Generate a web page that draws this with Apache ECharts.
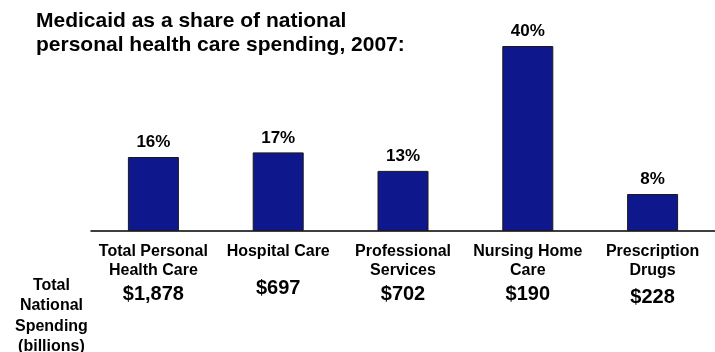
<!DOCTYPE html>
<html>
<head>
<meta charset="utf-8">
<script src="https://cdn.jsdelivr.net/npm/echarts@6/dist/echarts.min.js"></script>
<style>
  html, body { margin: 0; padding: 0; background: #ffffff; }
  #chart { width: 715px; height: 352px; }
</style>
</head>
<body>
<div id="chart"></div>
<script>
// Service categories along the bottom
const categories = [
  'Total Personal\nHealth Care',
  'Hospital Care',
  'Professional\nServices',
  'Nursing Home\nCare',
  'Prescription\nDrugs'
];
// Medicaid share of spending, percent
const medicaidShare = [16, 17, 13, 40, 8];
// Total national spending, billions of dollars
const nationalSpending = ['$1,878', '$697', '$702', '$190', '$228'];
// Row style used for each spending figure
const spendingRow = ['mid', 'hi', 'mid', 'mid', 'lo'];

const FONT = 'Arial, "Liberation Sans", sans-serif';
const chart = echarts.init(document.getElementById('chart'));

const spendStyle = (top) => ({
  fontFamily: FONT, fontSize: 20, fontWeight: 'bold', color: '#000',
  lineHeight: 24, padding: [top, 0, 0, 0]
});

chart.setOption({
  animation: false,
  backgroundColor: '#ffffff',
  title: {
    text: 'Medicaid as a share of national\npersonal health care spending, 2007:',
    left: 36,
    top: 9,
    padding: 0,
    textStyle: {
      fontFamily: FONT,
      fontSize: 21,
      fontWeight: 'bold',
      color: '#000000',
      lineHeight: 24
    }
  },
  grid: { left: 91, width: 634, top: 46, height: 185, containLabel: false },
  xAxis: [
    {
      type: 'category',
      data: categories,
      position: 'bottom',
      axisLine: { show: true, lineStyle: { color: '#000000', width: 1.5 } },
      axisTick: { show: false },
      axisLabel: {
        interval: 0,
        margin: 11,
        fontFamily: FONT,
        fontSize: 16,
        fontWeight: 'bold',
        color: '#000000',
        lineHeight: 19
      }
    },
    {
      type: 'category',
      data: categories,
      position: 'bottom',
      axisLine: { show: false },
      axisTick: { show: false },
      axisLabel: {
        interval: 0,
        margin: 45,
        formatter: (v, i) => '{' + spendingRow[i] + '|' + nationalSpending[i] + '}',
        rich: { hi: spendStyle(0), mid: spendStyle(12), lo: spendStyle(19) }
      }
    }
  ],
  yAxis: {
    type: 'value',
    min: 0,
    max: 40,
    show: false,
    splitLine: { show: false }
  },
  series: [
    {
      type: 'bar',
      data: medicaidShare,
      barWidth: 51,
      itemStyle: { color: '#0e178c', borderColor: '#1a1a1a', borderWidth: 1 },
      label: {
        show: true,
        position: 'top',
        distance: 6,
        formatter: '{c}%',
        fontFamily: FONT,
        fontSize: 17,
        fontWeight: 'bold',
        color: '#000000'
      }
    }
  ],
  graphic: [
    {
      type: 'text',
      left: 49 - 34,
      top: 275,
      style: {
        text: 'Total\nNational\nSpending\n(billions)',
        x: 34,
        textAlign: 'center',
        font: 'bold 16px ' + FONT,
        lineHeight: 20.5,
        fill: '#000000'
      }
    }
  ]
});
</script>
</body>
</html>
